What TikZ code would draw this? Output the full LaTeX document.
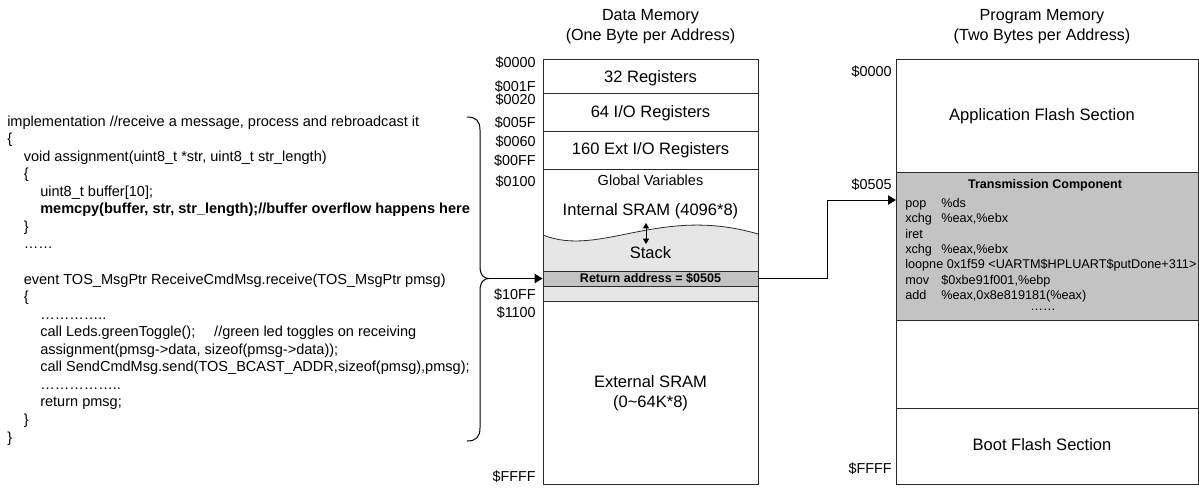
\documentclass[tikz,border=0pt]{standalone}
\usepackage{fontspec}
\setmainfont{Liberation Sans}
\usepackage{xcolor}
\definecolor{edge}{HTML}{2B2B2B}
\definecolor{stk}{HTML}{E6E6E6}
\definecolor{band}{HTML}{C3C3C3}
\usepackage{tikz}
\usetikzlibrary{arrows.meta,positioning}
\tikzset{
  >={Triangle[length=6pt,width=7pt]},
  cell/.style={draw=edge,line width=0.6pt},
  lbl/.style={font=\fontsize{12.4}{14}\selectfont,inner sep=0pt},
  ttl/.style={font=\fontsize{12.1}{15}\selectfont,inner sep=0pt,align=center},
  addr/.style={font=\fontsize{10.8}{12}\selectfont,inner sep=0pt,anchor=east},
  src/.style={font=\fontsize{10.9}{13}\selectfont,inner sep=0pt,anchor=base west},
  asm/.style={font=\fontsize{9.5}{11}\selectfont,inner sep=0pt,anchor=base west},
  sml/.style={font=\fontsize{9.4}{11}\selectfont\bfseries,inner sep=0pt},
  arr/.style={->,draw=black,line width=0.75pt},
  brc/.style={draw=black,line width=0.75pt},
}

\begin{document}
\begin{tikzpicture}[x=0.75pt,y=-0.75pt]
\useasboundingbox (0,0) rectangle (1199,487);
% source code
\foreach \n/\ind/\txt in {
  0/0/{implementation //receive a message, process and rebroadcast it},
  1/0/{\{},
  2/1/{void assignment(uint8\_t *str, uint8\_t str\_length)},
  3/1/{\{},
  4/2/{uint8\_t buffer[10];},
  5/2/{\bfseries memcpy(buffer, str, str\_length);//buffer overflow happens here},
  6/1/{\}},
  7/1/{……},
  9/1/{event TOS\_MsgPtr ReceiveCmdMsg.receive(TOS\_MsgPtr pmsg)},
  10/1/{\{},
  11/2/{…………..},
  12/2/{call Leds.greenToggle();\hspace{1.3em}//green led toggles on receiving},
  13/2/{assignment(pmsg->data, sizeof(pmsg->data));},
  14/2/{call SendCmdMsg.send(TOS\_BCAST\_ADDR,sizeof(pmsg),pmsg);},
  15/2/{……………..},
  16/2/{return pmsg;},
  17/1/{\}},
  18/0/{\}}}{
  \node[src] (src\n) at (7+\ind*16.5,126+\n*17.56) {\txt};
}
\coordinate (tip) at (490,278.5);
\draw[brc] (467,117) .. controls (476,117) and (480,121) .. (480,130) -- (480,266)
  .. controls (480,275) and (483,278.5) .. (tip);
\draw[brc] (tip) .. controls (483,278.5) and (480,282) .. (480,291) -- (480,428)
  .. controls (480,437) and (476,441) .. (467,441);
% data memory
\node[ttl] (dtitle) at (650.5,27) {Data Memory\\(One Byte per Address)};
\fill[stk] (543,235) .. controls (600,258) and (660,205) .. (758,234) -- (758,301) -- (543,301) -- cycle;
\draw[edge,line width=0.6pt] (543,235) .. controls (600,258) and (660,205) .. (758,234);
\node[cell,fill=band,minimum width=161.25pt,minimum height=11.25pt,inner sep=0pt,sml] (ret) at (650.5,278.5) {Return address = \$0505};
\draw[cell] (543,59) rectangle (758,484);
\foreach \y in {93,131,169,301}{ \draw[cell] (543,\y) -- (758,\y); }
\foreach \a/\y [count=\k] in {\$0000/63,\$001F/87,\$0020/100,\$005F/123,\$0060/142,\$00FF/161,\$0100/182,\$10FF/295,\$1100/313,\$FFFF/477}{
  \node[addr] (da\k) at (536,\y) {\a};
}
\node[lbl] (reg) at (650.5,78) {32 Registers};
\node[lbl] (io) at (650.5,113) {64 I/O Registers};
\node[lbl] (extio) at (650.5,150) {160 Ext I/O Registers};
\node[src,anchor=center] (glob) at (650.5,180) {Global Variables};
\node[lbl] (isram) at (650.5,211) {Internal SRAM (4096*8)};
\node[lbl] (stack) at (650.5,253) {Stack};
\node[lbl] (esram) at (650.5,382) {External SRAM};
\node[lbl] (esize) at (650.5,403) {(0\textasciitilde64K*8)};
\draw[<->,>={Triangle[length=4pt,width=4.5pt]},line width=0.6pt] (646,223) -- (646,244);
\draw[arr] (tip) -- (ret.west);
% program memory
\node[ttl] (ptitle) at (1042,27) {Program Memory\\(Two Bytes per Address)};
\node[cell,fill=band,minimum width=226.5pt,minimum height=111pt,inner sep=0pt] (trans) at (1047,246) {};
\draw[cell] (896,59) rectangle (1198,484);
\draw[cell] (896,408) -- (1198,408);
\foreach \a/\y [count=\k] in {\$0000/72,\$0505/185,\$FFFF/469}{
  \node[addr] (pa\k) at (892,\y) {\a};
}
\node[lbl] (app) at (1042,116) {Application Flash Section};
\node[sml] (tctitle) at (1045,185) {Transmission Component};
\foreach \n/\op/\arg in {0/pop/{\%ds},1/xchg/{\%eax,\%ebx},2/iret/{},3/xchg/{\%eax,\%ebx},5/mov/{\$0xbe91f001,\%ebp},6/add/{\%eax,0x8e819181(\%eax)}}{
  \node[asm] (asm\n) at (905,207.5+\n*15.3) {\makebox[27pt][l]{\op}\arg};
}
\node[asm] (asm4) at (905,268.7) {loopne 0x1f59 <UARTM\$HPLUART\$putDone+311>};
\node[asm,anchor=center] (asmdots) at (1043,310) {……};
\node[lbl] (boot) at (1042,445) {Boot Flash Section};
\coordinate (bend) at (827,278.5);
\coordinate (entry) at (896,200);
\draw[arr] (ret.east) -- (bend) |- (entry);
\end{tikzpicture}
\end{document}
